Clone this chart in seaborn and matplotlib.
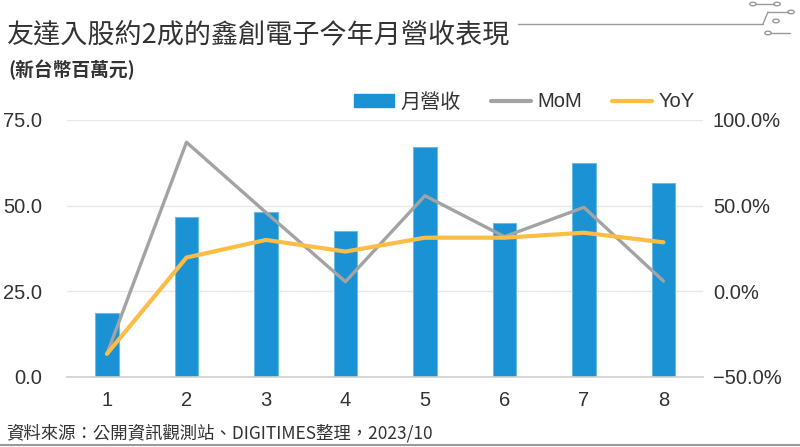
import matplotlib
matplotlib.use('Agg')
import matplotlib.pyplot as plt
from matplotlib.lines import Line2D
from matplotlib.patches import Circle
import pandas as pd
import seaborn as sns

# Data
months = ['1', '2', '3', '4', '5', '6', '7', '8']
revenue = [18.6, 46.6, 48.2, 42.6, 67.2, 44.8, 62.3, 56.7]   # 新台幣百萬元
mom = [-36.5, 87.0, 46.0, 5.6, 55.8, 31.9, 49.0, 6.0]        # %
yoy = [-36.5, 19.7, 30.0, 23.2, 31.3, 31.3, 34.2, 28.6]      # %

sns.set_theme(style='white')
plt.rcParams['font.family'] = ['Liberation Sans', 'Noto Sans CJK TC', 'DejaVu Sans']
plt.rcParams['axes.unicode_minus'] = False

BLUE = '#1a92d3'
GRAY = '#a3a3a3'
ORANGE = '#fbbd45'
TXT = '#333333'
CJK = ['Noto Sans CJK TC', 'DejaVu Sans']

df = pd.DataFrame({'month': months, 'revenue': revenue, 'mom': mom, 'yoy': yoy})
df['pos'] = range(len(df))

fig = plt.figure(figsize=(8, 4.47), dpi=100)
ax = fig.add_axes([0.084, 0.1566, 0.795, 0.575])

sns.barplot(data=df, x='month', y='revenue', color=BLUE, width=0.3,
            edgecolor='#6bbbe6', linewidth=0.8, saturation=1, ax=ax)
ax.set_ylim(0, 75)
ax.set_yticks([0, 25, 50, 75])
ax.set_yticklabels(['0.0', '25.0', '50.0', '75.0'])
ax.set_xlim(-0.5, 7.5)
ax.set_xlabel('')
ax.set_ylabel('')
ax.grid(axis='y', color='#e8e8e8', linewidth=1)
ax.set_axisbelow(True)
for s in ['top', 'right', 'left']:
    ax.spines[s].set_visible(False)
ax.spines['bottom'].set_color('#cfcfcf')
ax.spines['bottom'].set_linewidth(1.2)
ax.tick_params(axis='both', length=0, labelsize=14.5, colors=TXT)
ax.tick_params(axis='x', pad=10)
ax.tick_params(axis='y', pad=18)

ax2 = ax.twinx()
sns.lineplot(data=df, x='pos', y='mom', color=GRAY, linewidth=2.4, ax=ax2)
sns.lineplot(data=df, x='pos', y='yoy', color=ORANGE, linewidth=3.0, ax=ax2)
ax2.set_ylim(-50, 100)
ax2.set_yticks([-50, 0, 50, 100])
ax2.set_yticklabels(['\u221250.0%', '0.0%', '50.0%', '100.0%'])
ax2.set_xlim(-0.5, 7.5)
ax2.set_ylabel('')
ax2.set_xlabel('')
for s in ax2.spines.values():
    s.set_visible(False)
ax2.tick_params(axis='y', length=0, labelsize=14.5, colors=TXT, pad=7)

# Legend
handles = [plt.Rectangle((0, 0), 1, 1, color=BLUE),
           Line2D([0], [0], color=GRAY, linewidth=3),
           Line2D([0], [0], color=ORANGE, linewidth=3)]
leg = fig.legend(handles, ['月營收', 'MoM', 'YoY'], loc='center', bbox_to_anchor=(0.655, 0.772),
                 ncol=3, frameon=False, fontsize=14.5, handlelength=2.0, handleheight=0.6,
                 handletextpad=0.3, columnspacing=1.5, labelcolor=TXT)
leg.get_texts()[0].set_family(CJK)

# Titles
fig.text(0.008, 0.922, '友達入股約2成的鑫創電子今年月營收表現', fontsize=19.5,
         color=TXT, ha='left', va='center', family=CJK)
fig.text(0.01, 0.843, '(新台幣百萬元)', fontsize=13.5, color=TXT, ha='left',
         va='center', fontweight='bold', family=CJK)
fig.text(0.008, 0.031, '資料來源：公開資訊觀測站、DIGITIMES整理，2023/10', fontsize=12.5,
         color=TXT, ha='left', va='center', family=CJK)

# Decorative circuit line in the top right
def px(x, y):
    return x / 800, 1 - y / 447

lc = '#9a9a9a'
for (xa, ya), (xb, yb) in [((518, 24), (763, 24)), ((763, 24), (768, 12)), ((768, 12), (788, 12)),
                          ((756, 4), (774, 4)), ((771, 33), (790, 33))]:
    (x0, y0), (x1, y1) = px(xa, ya), px(xb, yb)
    fig.add_artist(Line2D([x0, x1], [y0, y1], color=lc, linewidth=1.0))
for cx, cy in [(753, 4), (777, 4), (791, 12), (776, 21), (768, 33)]:
    x0, y0 = px(cx, cy)
    fig.add_artist(Circle((x0, y0), 3.2 / 800, transform=fig.transFigure, facecolor='white',
                          edgecolor=lc, linewidth=1.0))

# Bottom rule
fig.add_artist(Line2D([0, 1], [0.004, 0.004], color='#9a9a9a', linewidth=1.5))

fig.savefig('out.png', dpi=100)
